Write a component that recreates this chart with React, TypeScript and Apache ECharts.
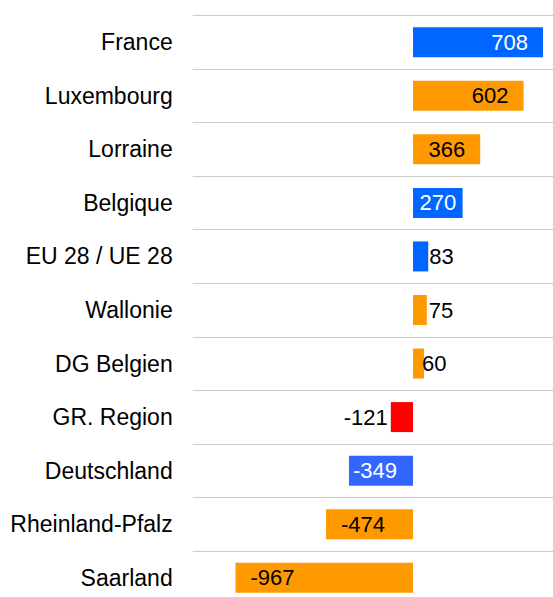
import React, { useEffect, useRef } from "react";
import * as echarts from "echarts";

const categories = [
  "France",
  "Luxembourg",
  "Lorraine",
  "Belgique",
  "EU 28 / UE 28",
  "Wallonie",
  "DG Belgien",
  "GR. Region",
  "Deutschland",
  "Rheinland-Pfalz",
  "Saarland",
];
const values = [708, 602, 366, 270, 83, 75, 60, -121, -349, -474, -967];
const barColors = [
  "#0066FF",
  "#FF9900",
  "#FF9900",
  "#0066FF",
  "#0066FF",
  "#FF9900",
  "#FF9900",
  "#FF0000",
  "#3366FF",
  "#FF9900",
  "#FF9900",
];
const labelColors = [
  "#ffffff",
  "#000000",
  "#000000",
  "#ffffff",
  "#000000",
  "#000000",
  "#000000",
  "#000000",
  "#ffffff",
  "#000000",
  "#000000",
];
const labelPlacements = [
  "insideRight",
  "insideRight",
  "insideRight",
  "inside",
  "right",
  "right",
  "right",
  "left",
  "insideLeft",
  "insideLeft",
  "insideLeft",
];
const labelGaps = [15, 15, 15, 0, 1, 2, -2, 3, 4, 15, 15];

const FONT = "'Liberation Sans', Arial, Helvetica, sans-serif";

export default function App() {
  const ref = useRef<HTMLDivElement>(null);
  useEffect(() => {
    if (!ref.current) return;
    const chart = echarts.init(ref.current, undefined, { renderer: "svg" });
    const data = values.map((v, i) => ({
      value: v,
      itemStyle: { color: barColors[i] },
      label: {
        show: true,
        position: labelPlacements[i],
        distance: labelGaps[i],
        color: labelColors[i],
        fontSize: 22,
        fontFamily: FONT,
      },
    }));
    chart.setOption({
      animation: false,
      grid: { left: 192.7, top: 15.5, width: 367.2, height: 589, containLabel: false },
      xAxis: {
        type: "value",
        min: -1200,
        max: 800,
        show: false,
        splitLine: { show: false },
      },
      yAxis: {
        type: "category",
        data: categories,
        inverse: true,
        axisLine: { show: false },
        axisTick: { show: false },
        axisLabel: {
          margin: 20,
          color: "#000000",
          fontSize: 23,
          fontFamily: FONT,
        },
        splitLine: { show: true, lineStyle: { color: "#cccccc", width: 1 } },
      },
      series: [
        {
          type: "bar",
          data,
          barWidth: 30,
        },
      ],
    });
    return () => chart.dispose();
  }, []);
  return (
    <div
      style={{
        position: "fixed",
        left: 0,
        top: 0,
        width: 553,
        height: 597,
        overflow: "hidden",
        background: "#fff",
      }}
    >
      <div ref={ref} style={{ width: 562, height: 606 }} />
    </div>
  );
}
